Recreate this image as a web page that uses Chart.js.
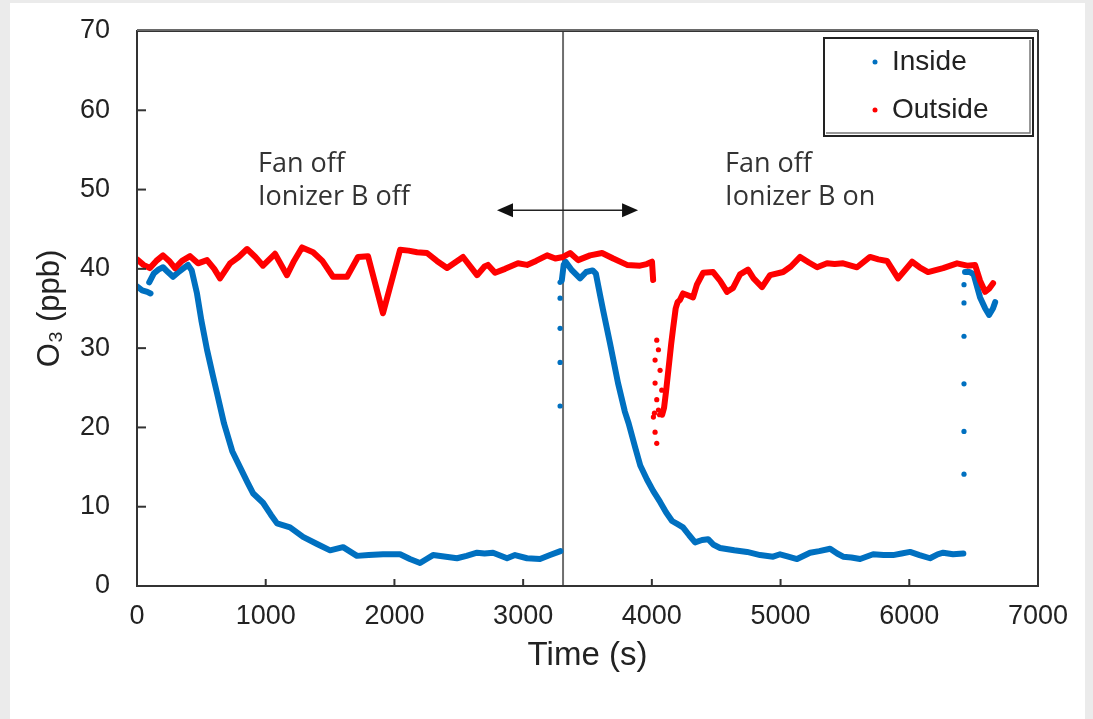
<!DOCTYPE html>
<html><head><meta charset="utf-8">
<script src="https://cdn.jsdelivr.net/npm/chart.js@4"></script>
<style>html,body{margin:0;padding:0;background:#ebebeb;}canvas{display:block;}</style>
</head><body>
<canvas id="c" width="1093" height="719"></canvas>
<script>
// ---------- data ----------
const xTicks = [0, 1000, 2000, 3000, 4000, 5000, 6000, 7000];
const yTicks = [0, 10, 20, 30, 40, 50, 60, 70];

const insideTimeA = [0, 40, 80, 105];
const insideO3A   = [37.8, 37.3, 37.1, 36.9];
const insideTimeB = [95,130,165,202,240,280,330,396,425,466,500,544,590,622,676,740,800,860,901,979,1040,1088,1189,1290,1399,1500,1601,1709,1800,1911,2044,2120,2199,2250,2300,2400,2486,2560,2642,2700,2766,2875,2937,3030,3131,3209,3290];
const insideO3B   = [38.3,39.4,39.9,40.2,39.6,39.0,39.7,40.5,39.8,36.9,33.5,29.8,26.5,24.3,20.5,17.0,15.0,13.0,11.7,10.5,9.0,7.9,7.4,6.2,5.3,4.5,4.9,3.8,3.9,4.0,4.0,3.4,2.9,3.4,3.9,3.7,3.5,3.8,4.2,4.1,4.2,3.5,3.9,3.5,3.4,3.9,4.4];
const insideTimeC = [3300,3315,3330,3380,3442,3490,3540,3565,3600,3621,3675,3737,3790,3820,3870,3910,3963,4010,4064,4110,4157,4200,4242,4290,4336,4390,4437,4480,4530,4640,4740,4841,4942,4996,5060,5128,5229,5300,5385,5440,5486,5550,5618,5719,5800,5874,5940,6006,6080,6161,6220,6263,6340,6420];
const insideO3C   = [38.5,40.5,40.9,39.8,38.8,39.6,39.8,39.4,36.5,34.8,30.6,25.6,22.0,20.5,17.5,15.2,13.4,12.0,10.6,9.3,8.2,7.8,7.4,6.4,5.5,5.8,5.9,5.2,4.8,4.5,4.3,3.9,3.7,4.0,3.7,3.4,4.2,4.4,4.7,4.1,3.7,3.6,3.4,4.0,3.9,3.9,4.1,4.3,3.9,3.5,4.0,4.2,4.0,4.1];
const insideTimeD = [6433,6470,6500,6550,6590,6620,6650,6667];
const insideO3D   = [39.6,39.6,39.3,36.4,35.0,34.2,35.0,35.8];
const insideDotTime = [3287,3287,3287,3287,3287,6425,6425,6425,6425,6425,6425];
const insideDotO3   = [22.7,28.2,32.5,36.3,38.3,14.1,19.5,25.5,31.5,35.7,38.0];

const outsideTimeA = [0,50,100,150,202,250,295,350,412,474,544,600,645,723,790,855,920,979,1072,1165,1220,1282,1368,1440,1523,1632,1717,1795,1911,2044,2110,2176,2253,2330,2409,2533,2642,2700,2727,2782,2860,2960,3030,3100,3186,3250,3310,3365,3427,3520,3613,3700,3807,3908,3960,4001,4010];
const outsideO3A   = [41.2,40.5,40.1,41.0,41.7,41.0,40.1,41.0,41.6,40.7,41.1,40.0,38.8,40.7,41.5,42.5,41.5,40.4,41.9,39.2,41.0,42.7,42.1,41.0,39.0,39.0,41.5,41.6,34.4,42.4,42.3,42.1,42.0,41.0,40.1,41.5,39.2,40.3,40.5,39.5,40.0,40.7,40.5,41.0,41.7,41.3,41.5,42.0,41.1,41.7,42.0,41.3,40.5,40.4,40.6,40.9,38.6];
const outsideTimeB = [4080,4095,4110,4130,4150,4165,4185,4200,4219,4242,4274,4320,4350,4398,4476,4530,4584,4631,4685,4747,4790,4856,4918,5020,5080,5152,5220,5284,5361,5420,5486,5594,5695,5760,5827,5913,6022,6080,6146,6263,6371,6450,6511,6550,6589,6620,6651];
const outsideO3B   = [21.6,22.5,24.5,27.5,30.5,32.5,35.0,35.8,36.1,36.9,36.7,36.4,38.0,39.5,39.6,38.5,37.1,37.6,39.3,39.9,38.8,37.7,39.2,39.6,40.3,41.5,40.8,40.2,40.7,40.6,40.7,40.2,41.5,41.2,41.0,38.8,40.9,40.2,39.6,40.1,40.7,40.4,40.5,38.5,37.1,37.5,38.2];
const outsideDotTime = [4012,4025,4025,4025,4038,4038,4038,4051,4051,4064,4077,4020,4060,4070];
const outsideDotO3   = [21.3,28.5,25.6,19.4,31.0,23.5,18.0,29.8,22.2,27.2,24.7,21.8,21.6,22.0];

const seriesNames = ['Inside', 'Outside'];
const seriesColors = ['#0070C0', '#FF0000'];

// annotation anchors (data units)
const dividerTime = 3310;
const arrowFrom = 2797, arrowTo = 3893, arrowLevel = 47.4;
const notes = [
  {t: 940,  lines: ['Fan off', 'Ionizer B off']},
  {t: 4569, lines: ['Fan off', 'Ionizer B on']}
];
const noteBaselines = [52.2, 48.0];

// ---------- helpers ----------
function segments(pairs) {
  const out = [];
  pairs.forEach(([ts, vs], k) => {
    if (k > 0) out.push({x: ts[0], y: null});
    ts.forEach((t, i) => out.push({x: t, y: vs[i]}));
  });
  return out;
}
function dots(ts, vs) { return ts.map((t, i) => ({x: t, y: vs[i]})); }

const tickFont = {family: "'Liberation Sans', Arial, sans-serif", size: 27};

const framePlugin = {
  id: 'frame',
  beforeDraw(chart) {
    const c = chart.ctx;
    c.save();
    c.fillStyle = '#ebebeb';
    c.fillRect(0, 0, chart.width, chart.height);
    c.fillStyle = '#ffffff';
    c.fillRect(10, 3, 1075, chart.height - 3);
    c.restore();
  },
  beforeDatasetsDraw(chart) {
    const c = chart.ctx, a = chart.chartArea, xs = chart.scales.x;
    const px = xs.getPixelForValue(dividerTime);
    c.save();
    c.strokeStyle = '#6e6e6e';
    c.lineWidth = 2;
    c.beginPath(); c.moveTo(px, a.top); c.lineTo(px, a.bottom); c.stroke();
    c.restore();
  },
  afterDatasetsDraw(chart) {
    const c = chart.ctx, a = chart.chartArea, xs = chart.scales.x, ys = chart.scales.y;
    c.save();
    // frame
    c.strokeStyle = '#333';
    c.lineWidth = 2;
    c.strokeRect(a.left, a.top, a.right - a.left, a.bottom - a.top);
    c.strokeStyle = '#6a6a6a';
    c.lineWidth = 2;
    c.beginPath(); c.moveTo(a.left, a.top - 1); c.lineTo(a.right, a.top - 1); c.stroke();
    // inward ticks
    c.strokeStyle = '#333';
    c.lineWidth = 2;
    xTicks.forEach(v => {
      if (v === xTicks[0] || v === xTicks[xTicks.length - 1]) return;
      const p = xs.getPixelForValue(v);
      c.beginPath(); c.moveTo(p, a.bottom); c.lineTo(p, a.bottom - 7); c.stroke();
    });
    yTicks.forEach(v => {
      if (v === yTicks[0] || v === yTicks[yTicks.length - 1]) return;
      const p = ys.getPixelForValue(v);
      c.beginPath(); c.moveTo(a.left, p); c.lineTo(a.left + 9, p); c.stroke();
    });
    // double arrow
    const ay = ys.getPixelForValue(arrowLevel);
    const x1 = xs.getPixelForValue(arrowFrom), x2 = xs.getPixelForValue(arrowTo);
    c.strokeStyle = '#222'; c.fillStyle = '#111'; c.lineWidth = 1.5;
    c.beginPath(); c.moveTo(x1 + 10, ay); c.lineTo(x2 - 10, ay); c.stroke();
    c.beginPath(); c.moveTo(x1, ay); c.lineTo(x1 + 16, ay - 7); c.lineTo(x1 + 16, ay + 7); c.closePath(); c.fill();
    c.beginPath(); c.moveTo(x2, ay); c.lineTo(x2 - 16, ay - 7); c.lineTo(x2 - 16, ay + 7); c.closePath(); c.fill();
    // notes
    c.fillStyle = '#333';
    c.font = "27px 'Open Sans', sans-serif";
    c.textAlign = 'left'; c.textBaseline = 'alphabetic';
    notes.forEach(n => {
      const nx = xs.getPixelForValue(n.t);
      n.lines.forEach((s, i) => c.fillText(s, nx, ys.getPixelForValue(noteBaselines[i])));
    });
    // legend
    const bx = a.right - 214, by = a.top + 7, bw = 209, bh = 98;
    c.fillStyle = '#fff';
    c.fillRect(bx, by, bw, bh);
    c.strokeStyle = '#222'; c.lineWidth = 2;
    c.strokeRect(bx, by, bw, bh);
    c.strokeStyle = '#777'; c.lineWidth = 1.5;
    c.beginPath(); c.moveTo(bx + bw - 3, by + 2); c.lineTo(bx + bw - 3, by + bh - 3); c.lineTo(bx + 2, by + bh - 3); c.stroke();
    c.font = "28px 'Liberation Sans', Arial, sans-serif";
    seriesNames.forEach((name, i) => {
      const cy = by + 24 + i * 48;
      c.fillStyle = seriesColors[i];
      c.beginPath(); c.arc(bx + 51, cy, 2.5, 0, Math.PI * 2); c.fill();
      c.fillStyle = '#222';
      c.textBaseline = 'middle';
      c.fillText(name, bx + 68, cy);
    });
    c.restore();
  }
};

new Chart(document.getElementById('c'), {
  type: 'line',
  data: {
    datasets: [
      {label: 'Inside', data: segments([[insideTimeA, insideO3A], [insideTimeB, insideO3B], [insideTimeC, insideO3C], [insideTimeD, insideO3D]]),
       borderColor: seriesColors[0], borderWidth: 6, pointRadius: 0, spanGaps: false, tension: 0,
       borderJoinStyle: 'round', borderCapStyle: 'round', order: 2},
      {label: 'Inside dots', data: dots(insideDotTime, insideDotO3), showLine: false,
       pointRadius: 2.6, pointBackgroundColor: seriesColors[0], pointBorderWidth: 0, order: 2},
      {label: 'Outside', data: segments([[outsideTimeA, outsideO3A], [outsideTimeB, outsideO3B]]),
       borderColor: seriesColors[1], borderWidth: 6, pointRadius: 0, spanGaps: false, tension: 0,
       borderJoinStyle: 'round', borderCapStyle: 'round', order: 1},
      {label: 'Outside dots', data: dots(outsideDotTime, outsideDotO3), showLine: false,
       pointRadius: 2.6, pointBackgroundColor: seriesColors[1], pointBorderWidth: 0, order: 1}
    ]
  },
  options: {
    responsive: false,
    animation: false,
    events: [],
    layout: {padding: {left: 0, top: 31, right: 55, bottom: 0}},
    plugins: {legend: {display: false}, tooltip: {enabled: false}},
    scales: {
      x: {
        type: 'linear', min: 0, max: 7000,
        afterFit: s => { s.height = 133; s.paddingLeft = 0; s.paddingRight = 0; },
        afterBuildTicks: s => { s.ticks = xTicks.map(v => ({value: v})); },
        grid: {display: false, drawTicks: false},
        border: {display: false},
        ticks: {font: tickFont, color: '#222', padding: 14, maxRotation: 0, autoSkip: false, callback: v => String(v)},
        title: {display: true, text: 'Time (s)', color: '#222',
                font: {family: "'Liberation Sans', Arial, sans-serif", size: 33}, padding: {top: 0, bottom: 43}}
      },
      y: {
        type: 'linear', min: 0, max: 70,
        afterFit: s => { s.width = 137; s.paddingTop = 0; s.paddingBottom = 0; },
        afterBuildTicks: s => { s.ticks = yTicks.map(v => ({value: v})); },
        grid: {display: false, drawTicks: false},
        border: {display: false},
        ticks: {font: tickFont, color: '#222', padding: 27, callback: v => String(v)},
        title: {display: true, text: 'O\u2083 (ppb)', color: '#222',
                font: {family: "'Liberation Sans', Arial, sans-serif", size: 31}, padding: {top: 32, bottom: 0}}
      }
    }
  },
  plugins: [framePlugin]
});
</script>
</body></html>
